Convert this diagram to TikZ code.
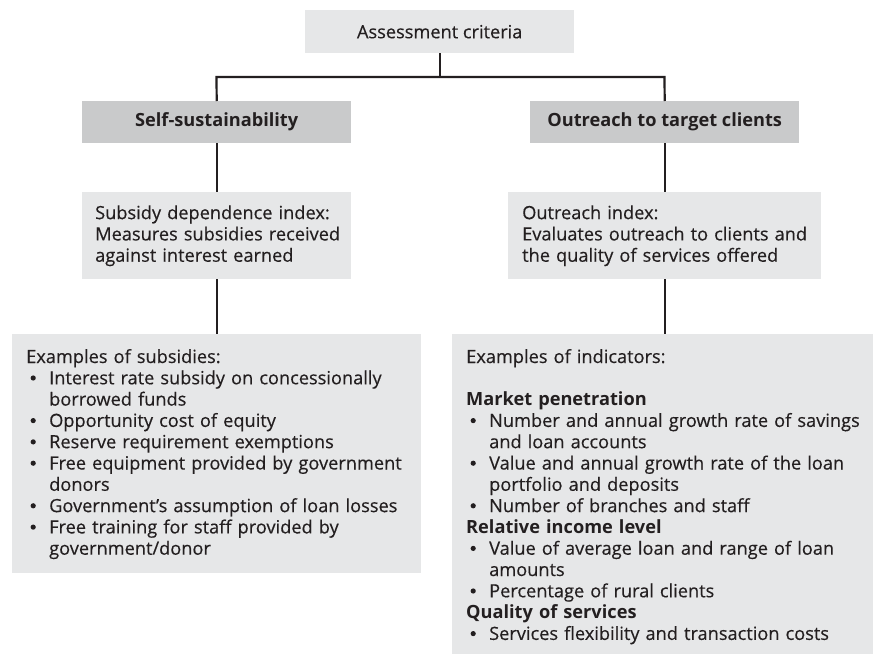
\documentclass[tikz,border=0pt]{standalone}
\usepackage{fontspec}
\setmainfont{Open Sans}[UprightFeatures={FakeBold=0.35}]
\definecolor{lightbox}{HTML}{E6E7E8}
\definecolor{darkbox}{HTML}{C9CACB}
\definecolor{ink}{HTML}{231F20}
\newcommand\bitem{\makebox[23pt][l]{\hspace{4.4pt}\tikz[baseline=0pt]\fill[ink] (2.6pt,6.3pt) circle[radius=2.6pt];}}
\newcommand\cont{\hspace*{23pt}}
\begin{document}
\begin{tikzpicture}[x=1pt,y=-1pt,
  box/.style={draw=none,inner sep=0pt,anchor=north west},
  txt/.style={text=ink,font=\fontsize{18.2}{21.3}\selectfont,inner sep=0pt},
  conn/.style={draw=ink,line width=2.2pt,line join=miter},
]
\useasboundingbox[fill=white] (0,0) rectangle (873,654);
% boxes
\node[box,fill=lightbox,minimum width=269pt,minimum height=43pt] (top) at (305,10) {};
\node[box,fill=darkbox,minimum width=269pt,minimum height=42pt] (self) at (82,101) {};
\node[box,fill=darkbox,minimum width=269pt,minimum height=42pt] (out) at (530,101) {};
\node[box,fill=lightbox,minimum width=269pt,minimum height=87pt] (sub) at (82,192) {};
\node[box,fill=lightbox,minimum width=313pt,minimum height=87pt] (oidx) at (508,192) {};
\node[box,fill=lightbox,minimum width=409pt,minimum height=239pt] (ex1) at (12,334) {};
\node[box,fill=lightbox,minimum width=421pt,minimum height=320pt] (ex2) at (452,334) {};
% texts
\node[txt] (toptext) at (top.center) {Assessment criteria};
\node[txt,font=\fontsize{18.2}{21.3}\selectfont\bfseries] (selftext) at (self.center) {Self-sustainability};
\node[txt,font=\fontsize{18.2}{21.3}\selectfont\bfseries] (outtext) at (out.center) {Outreach to target clients};
\node[txt,anchor=west,text width=250pt,align=left] (subtext) at ([xshift=13pt]sub.west)
  {Subsidy dependence index:\\Measures subsidies received\\against interest earned};
\node[txt,anchor=west,text width=300pt,align=left] (oidxtext) at ([xshift=14pt]oidx.west)
  {Outreach index:\\Evaluates outreach to clients and\\the quality of services offered};
\coordinate (ex1base) at (26,363);
\node[txt,anchor=base west,text width=400pt,align=left] (ex1text) at (ex1base)
  {Examples of subsidies:\\
   \bitem Interest rate subsidy on concessionally\\
   \cont borrowed funds\\
   \bitem Opportunity cost of equity\\
   \bitem Reserve requirement exemptions\\
   \bitem Free equipment provided by government\\
   \cont donors\\
   \bitem Government’s assumption of loan losses\\
   \bitem Free training for staff provided by\\
   \cont government/donor};
\coordinate (ex2base) at (466,363);
\node[txt,anchor=base west,text width=405pt,align=left] (ex2text) at (ex2base)
  {Examples of indicators:\\[21.3pt]
   {\bfseries Market penetration}\\
   \bitem Number and annual growth rate of savings\\
   \cont and loan accounts\\
   \bitem Value and annual growth rate of the loan\\
   \cont portfolio and deposits\\
   \bitem Number of branches and staff\\
   {\bfseries Relative income level}\\
   \bitem Value of average loan and range of loan\\
   \cont amounts\\
   \bitem Percentage of rural clients\\
   {\bfseries Quality of services}\\
   \bitem Services flexibility and transaction costs};
% connectors
\coordinate (jL) at (216.5,77);
\coordinate (jR) at (664.5,77);
\draw[conn] (top.south) -- (top.south |- jL);
\draw[conn] (self.north) -- (jL) -- (jR) -- (out.north);
\draw[conn] (self.south) -- (sub.north);
\draw[conn] (sub.south) -- (ex1.north);
\draw[conn] (out.south) -- (oidx.north);
\draw[conn] (oidx.south) -- (oidx.south |- ex2.north);
\end{tikzpicture}
\end{document}
